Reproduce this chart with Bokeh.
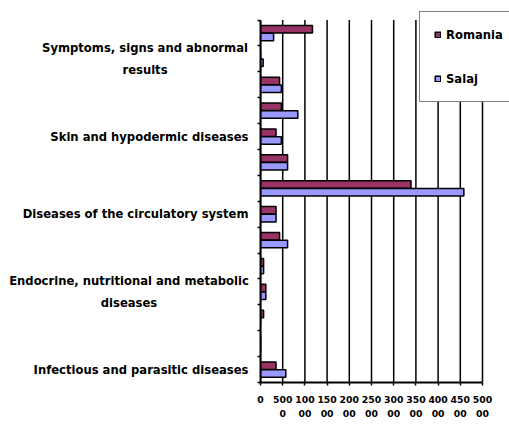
from bokeh.plotting import figure
from bokeh.layouts import row
from bokeh.models import Range1d, FixedTicker, Legend, LegendItem
from bokeh.core.properties import value
from bokeh.embed import file_html
from bokeh.resources import INLINE

# ---- data ----
categories = [
    "Infectious and parasitic diseases",
    "Tumors",
    "Diseases of blood and hematopoietic organs",
    "Endocrine, nutritional and metabolic\ndiseases",
    "Mental disorders",
    "Diseases of the nervous system",
    "Diseases of the circulatory system",
    "Diseases of the respiratory system",
    "Diseases of the digestive system",
    "Skin and hypodermic diseases",
    "Diseases of the musculoskeletal system",
    "Diseases of the genitourinary system",
    "Symptoms, signs and abnormal\nresults",
    "Injuries and poisonings",
]
romania = [3500, 0, 700, 1200, 700, 4300, 3500, 33900, 6100, 3500, 4700, 4300, 0, 11700]
salaj = [5700, 0, 0, 1200, 700, 6100, 3500, 45800, 6100, 4700, 8400, 4700, 600, 2950]

x_ticks = [0, 5000, 10000, 15000, 20000, 25000, 30000, 35000, 40000, 45000, 50000]
x_tick_labels = ["0", "500\n0", "100\n00", "150\n00", "200\n00", "250\n00",
                 "300\n00", "350\n00", "400\n00", "450\n00", "500\n00"]

series_names = ["Romania", "Salaj"]
series_colors = ["#993366", "#9999FF"]

FONT = "DejaVu Sans"
n = len(categories)
X_MAX = x_ticks[-1]

# shared vertical scale: data 0..n sits between canvas y=19.6 and y=382
y_range = Range1d(0, n * 382 / 362.4)

# ---------------- left panel: category labels ----------------
LW = 252
TEXT_RIGHT = 248
lab = figure(width=LW, height=426, x_range=Range1d(0, LW), y_range=y_range,
             output_backend="svg", toolbar_location=None,
             min_border_left=0, min_border_right=0, min_border_top=0, min_border_bottom=44)
lab.axis.visible = False
lab.grid.visible = False
lab.outline_line_color = None
lab.background_fill_color = "white"
lab.border_fill_color = "white"

wrapped_width = {3: 239, 12: 207}
shown = list(range(0, n, 3))
lx, ly, lt, la = [], [], [], []
for i in shown:
    txt = categories[i]
    ly.append(i + 0.5)
    lt.append(txt)
    if "\n" in txt:
        lx.append(TEXT_RIGHT - wrapped_width[i] / 2)
        la.append("center")
    else:
        lx.append(TEXT_RIGHT)
        la.append("right")
lab.text(x=lx, y=ly, text=lt, text_align=la, text_baseline="middle",
         text_font=value(FONT), text_font_style="bold", text_font_size="11.6px",
         text_color="black", text_line_height=1.55)

# ---------------- right panel: chart ----------------
RW = 509 - LW
BORDER_L = 8
frame_w = RW - BORDER_L
p = figure(width=RW, height=426,
           x_range=Range1d(0, X_MAX * frame_w / 222.0), y_range=y_range,
           output_backend="svg", toolbar_location=None,
           min_border_left=BORDER_L, min_border_right=0, min_border_top=0, min_border_bottom=44)
p.outline_line_color = None
p.background_fill_color = "white"
p.border_fill_color = "white"
p.grid.visible = False

# x axis
p.xaxis.bounds = (0, X_MAX)
p.xaxis.ticker = FixedTicker(ticks=x_ticks)
p.xaxis.major_label_overrides = dict(zip(x_ticks, x_tick_labels))
p.xaxis.axis_line_color = "black"
p.xaxis.axis_line_width = 2
p.xaxis.major_tick_out = 3
p.xaxis.major_tick_in = 0
p.xaxis.major_tick_line_color = "black"
p.xaxis.major_tick_line_width = 1.5
p.xaxis.minor_tick_line_color = None
p.xaxis.major_label_standoff = 8
p.xaxis.major_label_text_font = FONT
p.xaxis.major_label_text_font_style = "bold"
p.xaxis.major_label_text_font_size = "9.3px"
p.xaxis.major_label_text_color = "black"
p.xaxis.major_label_text_line_height = 1.35

# y axis: ticks on category boundaries, no labels (drawn in left panel)
y_bounds = list(range(n + 1))
p.yaxis.bounds = (0, n)
p.yaxis.ticker = FixedTicker(ticks=y_bounds)
p.yaxis.major_label_overrides = {b: "" for b in y_bounds}
p.yaxis.major_label_standoff = 0
p.yaxis.axis_line_color = "black"
p.yaxis.axis_line_width = 2
p.yaxis.major_tick_out = 3
p.yaxis.major_tick_in = 0
p.yaxis.major_tick_line_color = "black"
p.yaxis.major_tick_line_width = 1.5
p.yaxis.minor_tick_line_color = None

# vertical gridlines, limited to the data height
p.segment(x0=x_ticks, y0=[0] * len(x_ticks), x1=x_ticks, y1=[n] * len(x_ticks),
          line_color="black", line_width=1.5, level="underlay")

# bars
bar_h = 0.29
centers = [i + 0.5 for i in range(n)]
y_rom = [c + 0.15 for c in centers]
y_sal = [c - 0.15 for c in centers]
r1 = p.hbar(y=y_rom, left=0, right=romania, height=bar_h,
            fill_color=series_colors[0], line_color="black", line_width=1.5)
r2 = p.hbar(y=y_sal, left=0, right=salaj, height=bar_h,
            fill_color=series_colors[1], line_color="black", line_width=1.5)

# legend (box runs past the right edge, as in the reference)
legend = Legend(items=[LegendItem(label=series_names[0], renderers=[r1]),
                       LegendItem(label=series_names[1], renderers=[r2])],
                location=(159, 280), orientation="vertical",
                padding=14, spacing=27, margin=0,
                glyph_width=7, glyph_height=7, label_height=17, label_standoff=5,
                label_text_font=FONT, label_text_font_style="bold",
                label_text_font_size="11.6px", label_text_color="black",
                border_line_color="black", border_line_width=1.5,
                background_fill_color="white", background_fill_alpha=1.0)
p.add_layout(legend, "center")

layout = row(lab, p, spacing=0)
open("out.html", "w").write(file_html(layout, INLINE))
